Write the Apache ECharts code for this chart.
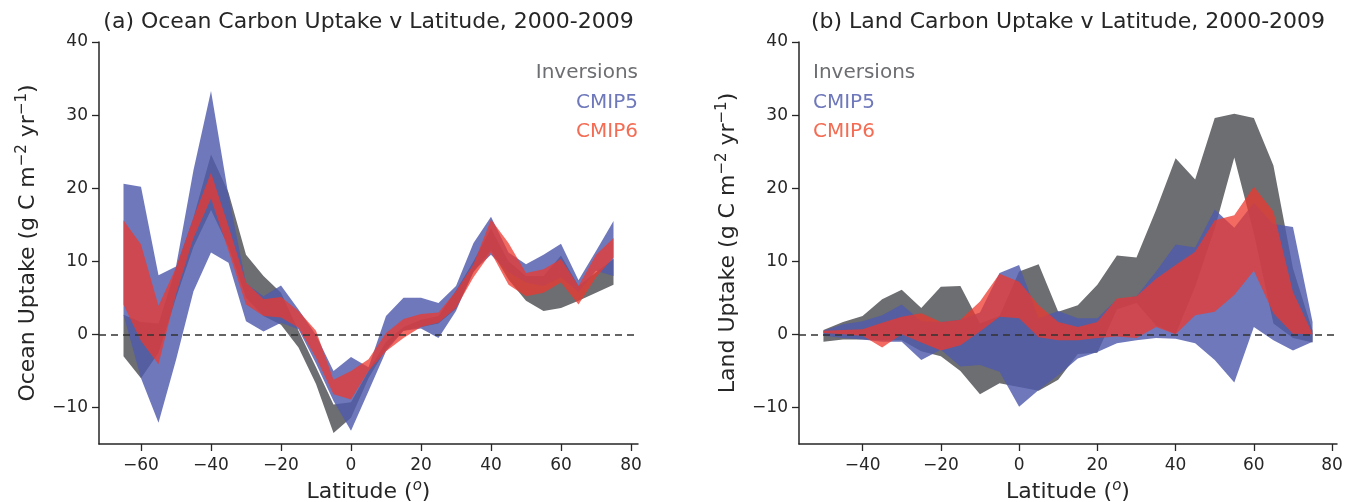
<!DOCTYPE html>
<html>
<head>
<meta charset="utf-8">
<script src="https://cdn.jsdelivr.net/npm/echarts@6.0.0/dist/echarts.min.js"></script>
<style>
html,body{margin:0;padding:0;background:#fff;}
#chart{width:1348px;height:502px;}
</style>
</head>
<body>
<div id="chart"></div>
<script>
// ---------- data ----------
const latOcean = [-65,-60,-55,-50,-45,-40,-35,-30,-25,-20,-15,-10,-5,0,5,10,15,20,25,30,35,40,45,50,55,60,65,70,75];
const oceanInvHi = [2.7,1.7,1.5,9.1,16.0,24.6,19.4,10.9,8.0,5.7,0.5,-4.5,-9.6,-9.3,-5.0,-1.0,1.0,2.0,2.5,6.0,10.0,14.5,10.0,8.0,8.0,10.8,6.6,8.5,10.3];
const oceanInvLo = [-3.0,-6.0,-2.5,5.0,12.0,17.0,12.0,5.0,2.5,1.3,-1.8,-6.8,-13.5,-11.4,-6.0,-2.0,0.5,1.0,1.5,3.5,8.5,11.5,7.5,4.6,3.2,3.6,4.6,5.7,6.8];
const oceanC5Hi = [20.6,20.2,8.1,9.3,22.5,33.3,19.0,7.0,5.2,6.7,3.4,-0.1,-5.0,-3.1,-4.5,2.5,5.0,5.0,4.3,6.6,12.5,16.1,11.2,9.6,10.9,12.4,7.4,11.4,15.5];
const oceanC5Lo = [2.7,-6.0,-12.1,-3.5,5.9,11.2,9.8,1.8,0.4,1.6,0.7,-4.0,-9.1,-13.2,-7.8,-2.3,0.5,0.8,-0.5,3.2,8.7,10.9,8.5,7.1,6.6,7.8,5.8,8.7,8.0];
const oceanC6Hi = [15.6,12.3,3.9,9.1,16.0,22.1,14.8,7.1,4.8,5.1,3.2,0.5,-6.2,-5.0,-3.4,0.2,2.1,2.8,3.0,5.9,9.6,15.7,12.5,8.4,8.9,10.3,6.6,10.9,13.2];
const oceanC6Lo = [4.1,-0.9,-4.1,5.5,13.2,18.6,11.4,4.1,2.5,2.3,0.9,-3.2,-8.2,-8.9,-5.0,-2.3,-0.5,1.0,1.6,3.6,7.8,11.2,6.8,5.2,5.7,7.1,4.1,7.8,10.5];

const latLand = [-50,-45,-40,-35,-30,-25,-20,-15,-10,-5,0,5,10,15,20,25,30,35,40,45,50,55,60,65,70,75];
const landInvHi = [0.6,1.7,2.5,4.8,6.1,3.6,6.5,6.6,1.5,2.5,8.6,9.6,3.1,4.0,6.8,10.8,10.5,17.0,24.1,21.2,29.6,30.2,29.6,23.1,9.0,0.5];
const landInvLo = [-1.0,-0.7,-0.7,-0.8,-0.8,-2.3,-3.0,-5.0,-8.2,-6.7,-7.2,-7.7,-6.2,-2.7,-2.5,3.4,4.3,1.2,0.0,6.5,14.5,24.2,13.8,1.5,-0.5,-1.1];
const landC5Hi = [0.5,1.4,1.8,2.6,4.1,1.8,1.7,2.0,3.0,8.4,9.5,2.2,3.2,2.2,2.2,4.8,5.2,8.6,12.3,11.9,17.1,14.6,18.0,15.1,14.7,1.7];
const landC5Lo = [-0.2,-0.5,-0.7,-1.0,-1.0,-3.5,-2.1,-4.4,-4.2,-5.1,-9.9,-7.6,-5.6,-3.3,-2.4,-1.2,-0.8,-0.5,-0.6,-1.2,-3.5,-6.6,1.0,-0.8,-2.2,-1.0];
const landC6Hi = [0.5,0.6,0.7,1.6,2.4,2.9,1.7,2.0,4.5,8.3,7.2,4.0,1.7,1.0,1.7,4.9,5.2,7.6,9.5,11.3,15.6,16.3,20.2,16.8,5.8,0.1];
const landC6Lo = [0.2,0.0,-0.2,-1.8,0.0,-1.1,-2.2,-1.5,0.4,2.4,2.2,-0.4,-0.8,-0.8,-0.5,-0.3,-0.5,1.0,0.0,2.6,3.1,5.4,8.7,2.9,0.1,0.0];

const xTicksOcean = [-60,-40,-20,0,20,40,60,80];
const xTicksLand = [-40,-20,0,20,40,60,80];
const yTicks = [-10,0,10,20,30,40];
const legendNames = ['Inversions','CMIP5','CMIP6'];
const titles = ['(a) Ocean Carbon Uptake v Latitude, 2000-2009','(b) Land Carbon Uptake v Latitude, 2000-2009'];
const yNames = ['Ocean Uptake (g C m','Land Uptake (g C m'];

// ---------- styling ----------
const FONT = 'DejaVu Sans';
const INK = '#262626';
const colInv = 'rgb(109,110,113)';
const colC5 = 'rgba(78,90,172,0.82)';
const colC6 = 'rgba(238,56,45,0.75)';
const txtCols = ['rgb(109,110,113)','rgb(110,120,187)','rgb(243,108,83)'];

const fmt = v => String(v).replace('-', '\u2212');

// band drawn as one polygon through the cartesian scales (api.coord)
function band(id, gi, lat, lo, hi, color, z, withZero) {
  const s = {
    name: id, type: 'custom', coordinateSystem: 'cartesian2d',
    xAxisIndex: gi, yAxisIndex: gi, silent: true, z: z,
    encode: {x: 0, y: [1, 2]},
    data: lat.map((x, i) => [x, lo[i], hi[i]]),
    renderItem: function (params, api) {
      if (params.dataIndex !== 0) return null;
      const pts = [];
      for (let i = 0; i < lat.length; i++) pts.push(api.coord([lat[i], hi[i]]));
      for (let i = lat.length - 1; i >= 0; i--) pts.push(api.coord([lat[i], lo[i]]));
      return {type: 'polygon', shape: {points: pts}, style: {fill: color, stroke: null}};
    }
  };
  if (withZero) {
    s.markLine = {
      silent: true, symbol: ['none','none'], z: 10,
      label: {show: false},
      lineStyle: {color: '#333333', type: [7,5], width: 1.5},
      emphasis: {disabled: true},
      data: [{yAxis: 0}]
    };
  }
  return s;
}

function xAxis(gi, min, max, ticks) {
  return {
    type: 'value', gridIndex: gi, min: min, max: max,
    name: '{a|Latitude (}{s|o}{a|)}', nameLocation: 'middle', nameGap: 34,
    nameTextStyle: {rich: {
      a: {fontFamily: FONT, fontSize: 22, color: INK, lineHeight: 26},
      s: {fontFamily: FONT, fontSize: 15, fontStyle: 'italic', color: INK, lineHeight: 15, verticalAlign: 'top'}
    }},
    axisLine: {show: true, onZero: false, lineStyle: {color: INK, width: 1.5}},
    axisTick: {show: true, length: 7, inside: false, customValues: ticks, lineStyle: {color: INK, width: 1.3}},
    axisLabel: {customValues: ticks, formatter: fmt, fontFamily: FONT, fontSize: 17, color: INK, margin: 13},
    splitLine: {show: false}
  };
}

function yAxis(gi, nm) {
  return {
    type: 'value', gridIndex: gi, min: -15, max: 40,
    name: '{a|' + nm + '}{s|\u22122}{a| yr}{s|\u22121}{a|)}', nameLocation: 'middle', nameGap: 58,
    nameTextStyle: {rich: {
      a: {fontFamily: FONT, fontSize: 22, color: INK, lineHeight: 26},
      s: {fontFamily: FONT, fontSize: 15, color: INK, lineHeight: 15, verticalAlign: 'top'}
    }},
    axisLine: {show: true, onZero: false, lineStyle: {color: INK, width: 1.5}},
    axisTick: {show: true, length: 7, inside: false, customValues: yTicks, lineStyle: {color: INK, width: 1.3}},
    axisLabel: {customValues: yTicks, formatter: fmt, fontFamily: FONT, fontSize: 17, color: INK, margin: 11},
    splitLine: {show: false}
  };
}

const grids = [
  {left: 99, top: 42, width: 539, height: 402, containLabel: false, outerBoundsMode: 'none'},
  {left: 799, top: 42, width: 538, height: 402, containLabel: false, outerBoundsMode: 'none'}
];

const series = [
  band('oInv', 0, latOcean, oceanInvLo, oceanInvHi, colInv, 2, false),
  band('oC5', 0, latOcean, oceanC5Lo, oceanC5Hi, colC5, 3, false),
  band('oC6', 0, latOcean, oceanC6Lo, oceanC6Hi, colC6, 4, true),
  band('lInv', 1, latLand, landInvLo, landInvHi, colInv, 2, false),
  band('lC5', 1, latLand, landC5Lo, landC5Hi, colC5, 3, false),
  band('lC6', 1, latLand, landC6Lo, landC6Hi, colC6, 4, true)
];

const graphics = [];
titles.forEach((t, i) => {
  graphics.push({type: 'text', x: grids[i].left + grids[i].width / 2, y: 22, z: 20,
    style: {text: t, fontFamily: FONT, fontSize: 22, fill: INK, align: 'center', verticalAlign: 'middle'}});
});
legendNames.forEach((n, k) => {
  graphics.push({type: 'text', x: 638, y: 73 + k * 29.5, z: 20,
    style: {text: n, fontFamily: FONT, fontSize: 20, fill: txtCols[k], align: 'right', verticalAlign: 'middle'}});
  graphics.push({type: 'text', x: 813, y: 73 + k * 29.5, z: 20,
    style: {text: n, fontFamily: FONT, fontSize: 20, fill: txtCols[k], align: 'left', verticalAlign: 'middle'}});
});

const chart = echarts.init(document.getElementById('chart'), null, {renderer: 'canvas'});
chart.setOption({
  animation: false,
  backgroundColor: '#ffffff',
  grid: grids,
  xAxis: [xAxis(0, -72, 82, xTicksOcean), xAxis(1, -56.25, 81.25, xTicksLand)],
  yAxis: [yAxis(0, yNames[0]), yAxis(1, yNames[1])],
  series: series,
  graphic: graphics
});
</script>
</body>
</html>
